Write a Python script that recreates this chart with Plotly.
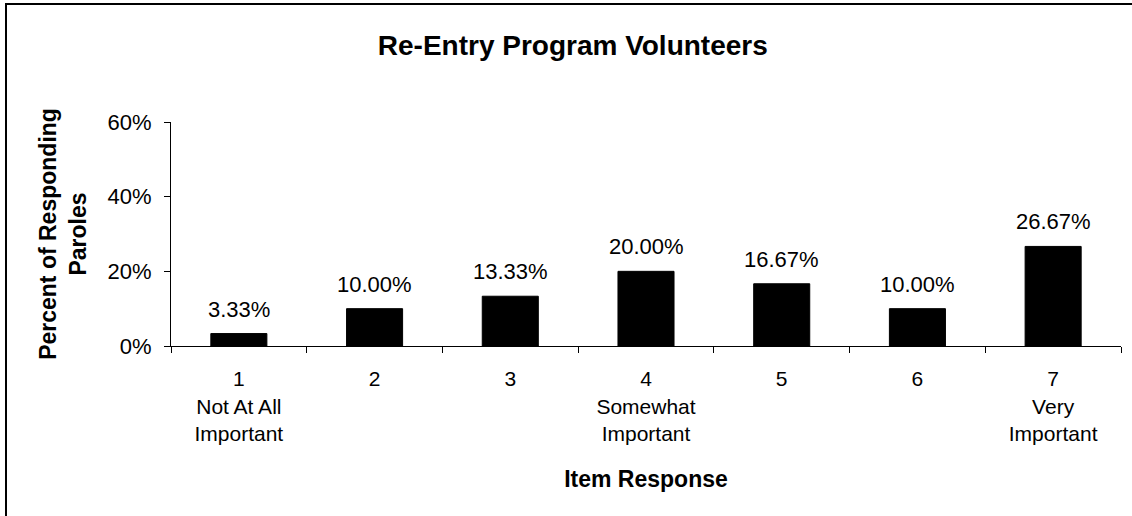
import plotly.graph_objects as go

categories = ["1<br>Not At All<br>Important", "2", "3", "4<br>Somewhat<br>Important", "5", "6", "7<br>Very<br>Important"]
values = [3.33, 10.00, 13.33, 20.00, 16.67, 10.00, 26.67]
labels = ["3.33%", "10.00%", "13.33%", "20.00%", "16.67%", "10.00%", "26.67%"]
yticks = [0, 20, 40, 60]
yticklabels = ["0%", "20%", "40%", "60%"]

W, H = 1132, 516
L, R, T, B = 171, 11, 122, 170
pw, ph = W - L - R, H - T - B
FONT = "Arial, Liberation Sans"

fig = go.Figure(go.Bar(
    x=categories, y=values,
    marker=dict(color="black", line=dict(color="black", width=1)),
    hoverinfo="skip",
))

# category axis: annotation x given as category index
for i, (v, t) in enumerate(zip(values, labels)):
    fig.add_annotation(x=i, y=v, text=t, showarrow=False, yanchor="bottom",
                       yshift=10, font=dict(family=FONT, size=22, color="black"))

fig.update_layout(
    width=W, height=H,
    margin=dict(l=L, r=R, t=T, b=B),
    paper_bgcolor="white", plot_bgcolor="white",
    bargap=0.587,
    showlegend=False,
    font=dict(family=FONT, size=22, color="black"),
    title=dict(text="<b>Re-Entry Program Volunteers</b>", x=0.506, xanchor="center",
               y=1 - 45 / H, yanchor="middle", font=dict(size=28)),
    xaxis=dict(type="category", tickson="boundaries", ticks="outside", ticklen=6,
               tickcolor="black", showline=True, linecolor="black", linewidth=1,
               showgrid=False, tickfont=dict(size=21), ticklabelstandoff=14,
               title=dict(text="<b>Item Response</b>", font=dict(size=23), standoff=27)),
    yaxis=dict(range=[0, 60], tickvals=yticks, ticktext=yticklabels, ticks="outside",
               ticklen=6, tickcolor="black", showline=True, linecolor="black", linewidth=1,
               showgrid=False, zeroline=False, tickfont=dict(size=22), ticklabelstandoff=8,
               title=dict(text="<b>Percent of Responding<br>Paroles</b>", font=dict(size=23), standoff=14)),
    shapes=[dict(type="rect", xref="paper", yref="paper",
                 x0=(6 - L) / pw, x1=(W + 10 - L) / pw,
                 y0=-(B + 10) / ph, y1=1 + (T - 4) / ph,
                 line=dict(color="black", width=2), fillcolor="rgba(0,0,0,0)", layer="below")],
)

fig.write_html("out.html")
